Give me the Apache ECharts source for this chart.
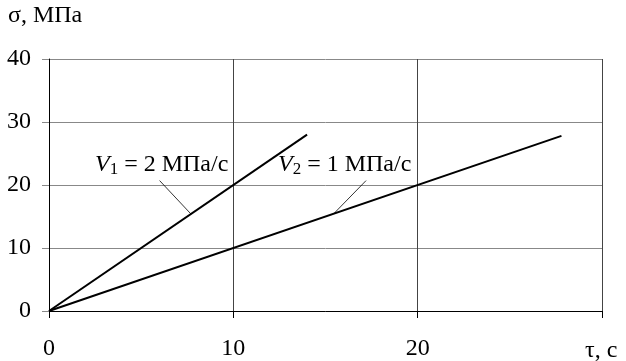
<!DOCTYPE html>
<html><head><meta charset="utf-8">
<script src="https://cdn.jsdelivr.net/npm/echarts@6/dist/echarts.min.js"></script>
<style>html,body{margin:0;padding:0;background:#fff}#c{width:626px;height:361px}</style>
</head><body><div id="c"></div>
<script>
// data
const xTicks = [0, 10, 20, 30];
const yTicks = [0, 10, 20, 30, 40];
const v1Line = [[0, 0], [14, 28]];
const v2Line = [[0, 0], [27.8, 27.8]];
const leader1 = [[6.0, 20.7], [7.7, 15.4]];
const leader2 = [[17.2, 20.7], [15.45, 15.45]];
const yAxisTitle = 'σ, МПа';
const xAxisTitle = 'τ, с';

const FONT = '"Liberation Serif", "Times New Roman", serif';
const FS = 24;
const chart = echarts.init(document.getElementById('c'));
function vLabel(idx, rest) {
  return {
    text: '{v|V}{s|' + idx + '}{n|' + rest + '}',
    rich: {
      v: {fontFamily: FONT, fontSize: FS, fontStyle: 'italic', fill: '#000'},
      s: {fontFamily: FONT, fontSize: 17, fill: '#000', padding: [9, 0, 0, 0], verticalAlign: 'bottom'},
      n: {fontFamily: FONT, fontSize: FS, fill: '#000'}
    }
  };
}
chart.setOption({
  animation: false,
  grid: {left: 49, right: 24, top: 59, bottom: 47, containLabel: false},
  xAxis: {
    type: 'value', min: xTicks[0], max: xTicks[xTicks.length - 1], interval: 10,
    axisLine: {show: true, lineStyle: {color: '#000', width: 1}},
    axisTick: {show: true, length: 7, lineStyle: {color: '#000'}},
    axisLabel: {fontFamily: FONT, fontSize: FS, color: '#000', margin: 26,
      formatter: v => v === 30 ? '' : String(v)},
    splitLine: {show: true, lineStyle: {color: '#444', width: 1}}
  },
  yAxis: {
    type: 'value', min: yTicks[0], max: yTicks[yTicks.length - 1], interval: 10,
    axisLine: {show: true, lineStyle: {color: '#000', width: 1}},
    axisTick: {show: true, length: 7, lineStyle: {color: '#888'}},
    axisLabel: {fontFamily: FONT, fontSize: FS, color: '#000', margin: 18},
    splitLine: {show: true, lineStyle: {color: '#888', width: 1}}
  },
  graphic: [
    {type: 'text', left: 8, top: 4, style: {text: yAxisTitle, font: FS + 'px ' + FONT, fill: '#000'}},
    {type: 'text', left: 585, top: 339, style: {text: xAxisTitle, font: FS + 'px ' + FONT, fill: '#000'}},
    {type: 'text', left: 95, top: 153, style: vLabel(1, ' = 2 МПа/с')},
    {type: 'text', left: 278, top: 153, style: vLabel(2, ' = 1 МПа/с')}
  ],
  series: [
    {type: 'line', data: v1Line, symbol: 'none', lineStyle: {color: '#000', width: 2}},
    {type: 'line', data: v2Line, symbol: 'none', lineStyle: {color: '#000', width: 2}},
    {type: 'line', data: leader1, symbol: 'none', lineStyle: {color: '#000', width: 0.8}},
    {type: 'line', data: leader2, symbol: 'none', lineStyle: {color: '#000', width: 0.8}}
  ]
});
</script></body></html>
